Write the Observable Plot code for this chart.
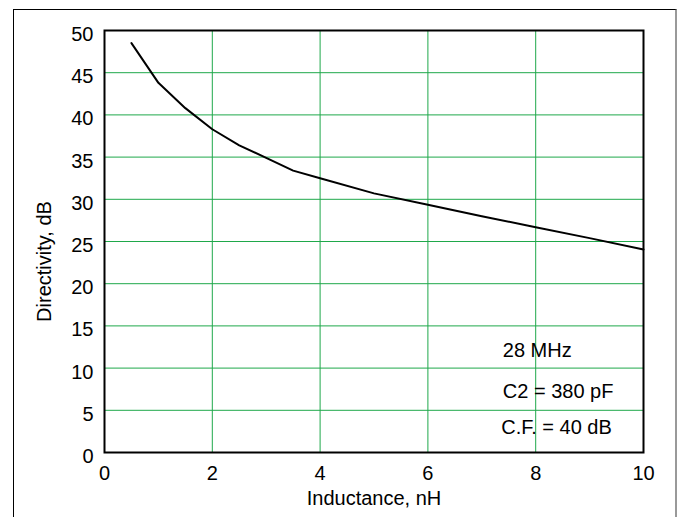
<!DOCTYPE html>
<html>
<head>
<meta charset="utf-8">
<script src="https://cdn.jsdelivr.net/npm/d3@7"></script>
<script src="https://cdn.jsdelivr.net/npm/@observablehq/plot@0.6"></script>
<style>
  html, body { margin: 0; padding: 0; background: #fff; }
  #wrap { position: relative; width: 683px; height: 517px; overflow: hidden; font-family: "Liberation Sans", Arial, sans-serif; }
  #border { position: absolute; left: 13px; top: 9px; width: 664px; height: 540px; border-left: 1px solid #000; border-top: 1px solid #000; border-right: 2px solid #999; box-sizing: border-box; }
  #chart { position: absolute; left: 0; top: 0; }
  #chart svg g[aria-label$="tick label"] { font-size: 20px; }
</style>
</head>
<body>
<div id="wrap"><div id="border"></div><div id="chart"></div></div>
<script>
const inductance = [0.5, 1, 1.5, 2, 2.5, 3, 3.5, 4, 5, 6, 7, 8, 9, 10];
const directivity = [48.5, 43.8, 40.8, 38.3, 36.4, 34.9, 33.4, 32.5, 30.7, 29.35, 28.0, 26.7, 25.4, 24.05];
const xTicks = [0, 2, 4, 6, 8, 10];
const yTicks = [0, 5, 10, 15, 20, 25, 30, 35, 40, 45, 50];
const notes = ["28 MHz", "C2 = 380 pF", "C.F. = 40 dB"];
const noteX = [7.39, 7.39, 7.36];
const noteY = [11.3, 6.4, 2.25];
const xLabel = "Inductance, nH";
const yLabel = "Directivity, dB";

const data = inductance.map((x, i) => ({x, y: directivity[i]}));
const noteData = notes.map((t, i) => ({t, x: noteX[i], y: noteY[i]}));
const grid = "#1fa84a";

const plot = Plot.plot({
  width: 683,
  height: 517,
  marginLeft: 104,
  marginRight: 40,
  marginTop: 30,
  marginBottom: 65,
  style: {fontFamily: '"Liberation Sans", Arial, sans-serif', fontSize: "19px", color: "#000", background: "transparent", overflow: "visible"},
  x: {domain: [0, 10], ticks: xTicks},
  y: {domain: [0, 50], ticks: yTicks},
  marks: [
    Plot.gridX(xTicks, {stroke: grid, strokeOpacity: 1, strokeWidth: 1}),
    Plot.gridY(yTicks, {stroke: grid, strokeOpacity: 1, strokeWidth: 1}),
    Plot.axisX(xTicks, {tickSize: 0, tickPadding: 13, label: null, fontSize: 20}),
    Plot.axisY(yTicks, {tickSize: 0, tickPadding: 11, dy: 4, label: null, fontSize: 20}),
    Plot.line(data, {x: "x", y: "y", stroke: "#000", strokeWidth: 2}),
    Plot.text(noteData, {x: "x", y: "y", text: "t", textAnchor: "start", lineAnchor: "bottom", fontSize: 20, fill: "#000"}),
    Plot.text([xLabel], {frameAnchor: "bottom", dy: 46, textAnchor: "middle", lineAnchor: "middle", fontSize: 20, fill: "#000"}),
    Plot.text([yLabel], {frameAnchor: "left", dx: -59.5, dy: 20, rotate: -90, textAnchor: "middle", lineAnchor: "middle", fontSize: 20, fill: "#000"}),
    Plot.frame({stroke: "#000", strokeWidth: 2})
  ]
});
document.getElementById("chart").appendChild(plot);
</script>
</body>
</html>
